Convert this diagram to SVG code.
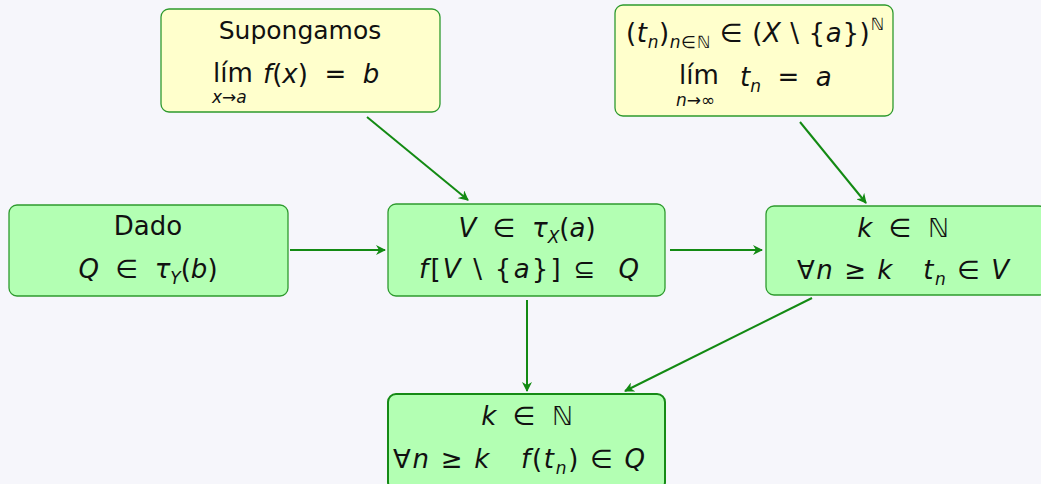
<svg xmlns="http://www.w3.org/2000/svg" width="1041" height="484" viewBox="0 0 1041 484">
<defs>
<marker id="ah" viewBox="0 0 10 10" refX="9" refY="5" markerWidth="10" markerHeight="10" markerUnits="userSpaceOnUse" orient="auto">
<path d="M0,0 L10,5 L0,10 L3,5 Z" fill="#138a13"/>
</marker>
<style>
.g{fill:#b3ffb3;stroke:#2e9a2e;stroke-width:1.3}
.y{fill:#ffffcc;stroke:#2e9a2e;stroke-width:1.3}
.b{fill:#b3ffb3;stroke:#158a15;stroke-width:2}
text{white-space:pre}
.t{font-family:"DejaVu Sans",sans-serif;font-size:26px;fill:#111}
.m{font-family:"DejaVu Sans",sans-serif;font-size:26px;fill:#111;font-style:italic}
.s{font-size:17px}
.c{stroke:#138a13;stroke-width:2;fill:none;marker-end:url(#ah)}
</style>
</defs>
<rect width="1041" height="484" fill="#f6f6fb"/>
<g id="connectors">
<line class="c" x1="367" y1="117" x2="468" y2="200"/>
<line class="c" x1="800" y1="122" x2="866" y2="203"/>
<line class="c" x1="290" y1="250" x2="385" y2="250"/>
<line class="c" x1="670" y1="250" x2="762" y2="250"/>
<line class="c" x1="527" y1="300" x2="527" y2="391"/>
<line class="c" x1="812" y1="298" x2="625" y2="391"/>
</g>
<g id="n1">
<rect class="y" x="161" y="9" width="279" height="103" rx="8"/>
<text class="t" x="300" y="39" text-anchor="middle" style="font-size:25px">Supongamos</text>
<text class="t" x="213" y="82">lím</text>
<text class="m s" x="212" y="103">x→a</text>
<text class="m" x="263" y="83">f<tspan font-style="normal">(</tspan>x<tspan font-style="normal">)  =  </tspan>b</text>
</g>
<g id="n2">
<rect class="y" x="615" y="5" width="278" height="111" rx="8"/>
<text class="m" x="755" y="42" text-anchor="middle" textLength="258" lengthAdjust="spacing"><tspan font-style="normal">(</tspan>t<tspan class="s" dy="6">n</tspan><tspan dy="-6" font-style="normal">)</tspan><tspan class="s" dy="6">n<tspan font-style="normal">∈ℕ</tspan></tspan><tspan dy="-6" font-style="normal"> ∈ (</tspan>X<tspan font-style="normal"> \ {</tspan>a<tspan font-style="normal">})</tspan><tspan class="s" dy="-12" font-style="normal">ℕ</tspan></text>
<text class="t" x="679" y="84">lím</text>
<text class="m s" x="676" y="106">n<tspan font-style="normal">→∞</tspan></text>
<text class="m" x="740" y="86">t<tspan class="s" dy="6">n</tspan><tspan dy="-6" font-style="normal">  =  </tspan>a</text>
</g>
<g id="n3">
<rect class="g" x="9" y="205" width="279" height="91" rx="8"/>
<text class="t" x="148" y="235" text-anchor="middle">Dado</text>
<text class="m" x="148" y="278" text-anchor="middle">Q<tspan font-style="normal">  ∈  </tspan>τ<tspan class="s" dy="6">Y</tspan><tspan dy="-6" font-style="normal">(</tspan>b<tspan font-style="normal">)</tspan></text>
</g>
<g id="n4">
<rect class="g" x="388" y="204" width="277" height="92" rx="8"/>
<text class="m" x="527" y="237" text-anchor="middle">V<tspan font-style="normal">  ∈  </tspan>τ<tspan class="s" dy="6">X</tspan><tspan dy="-6" font-style="normal">(</tspan>a<tspan font-style="normal">)</tspan></text>
<text class="m" x="529" y="278" text-anchor="middle" textLength="220" lengthAdjust="spacing">f<tspan font-style="normal">[</tspan>V<tspan font-style="normal"> \ {</tspan>a<tspan font-style="normal">}] ⊆  </tspan>Q</text>
</g>
<g id="n5">
<rect class="g" x="766" y="206" width="281" height="89" rx="8"/>
<text class="m" x="903" y="237" text-anchor="middle">k<tspan font-style="normal">  ∈  ℕ</tspan></text>
<text class="m" x="903" y="279" text-anchor="middle" textLength="212" lengthAdjust="spacing"><tspan font-style="normal">∀</tspan>n<tspan font-style="normal"> ≥ </tspan>k<tspan font-style="normal">   </tspan>t<tspan class="s" dy="6">n</tspan><tspan dy="-6" font-style="normal"> ∈ </tspan>V</text>
</g>
<g id="n6">
<rect class="b" x="388" y="394" width="277" height="96" rx="8"/>
<text class="m" x="527" y="425" text-anchor="middle">k<tspan font-style="normal">  ∈  ℕ</tspan></text>
<text class="m" x="519" y="468" text-anchor="middle" textLength="252" lengthAdjust="spacing"><tspan font-style="normal">∀</tspan>n<tspan font-style="normal"> ≥ </tspan>k<tspan font-style="normal">   </tspan>f<tspan font-style="normal">(</tspan>t<tspan class="s" dy="6">n</tspan><tspan dy="-6" font-style="normal">) ∈ </tspan>Q</text>
</g>
</svg>
